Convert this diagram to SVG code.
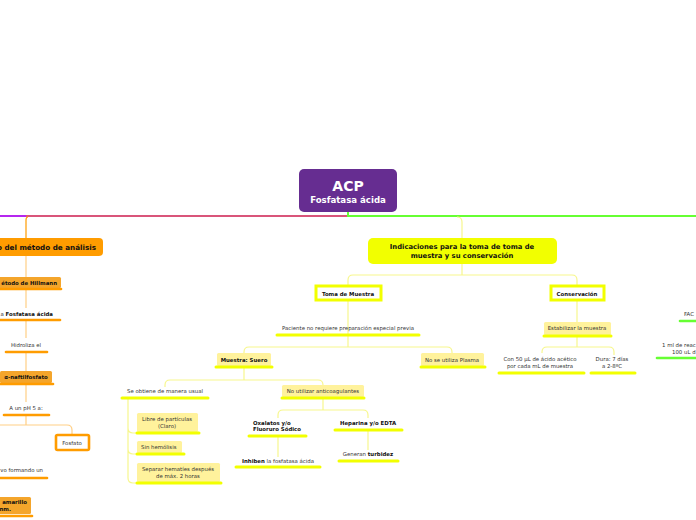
<svg xmlns="http://www.w3.org/2000/svg" width="696" height="520" viewBox="0 0 696 520">
<style>
text{font-family:"DejaVu Sans","Verdana",sans-serif;fill:#333;}
.b{font-weight:bold;fill:#111;}
.t{font-size:5.4px;}
.c{text-anchor:middle;}
.e{text-anchor:end;}
.yl{fill:none;stroke:#f7f78e;stroke-width:1.2;}
.ol{fill:none;stroke:#ffcf85;stroke-width:1.2;}
.ub{stroke:#f2ff00;stroke-width:3;stroke-linecap:round;}
.uo{stroke:#ff9c00;stroke-width:2.6;stroke-linecap:round;}
.ug{stroke:#66ff33;stroke-width:2.6;stroke-linecap:round;}
.fy{fill:#fff29c;}
.fo{fill:#f4a52b;}
.wy{fill:#fff;stroke:#f2ff00;stroke-width:3;}
.wo{fill:#fff;stroke:#ff9c00;stroke-width:2.6;}
</style>
<rect width="696" height="520" fill="#fff"/>
<g id="connectors">
<path d="M0,216 H26" stroke="#b526ef" stroke-width="2" fill="none"/>
<path d="M26,216 H348" stroke="#d9557a" stroke-width="2" fill="none"/>
<path d="M348,212 V216 H696" stroke="#66ff33" stroke-width="2" fill="none"/>
<path d="M28,217 Q26,217 26,220 V238" stroke="#ff9c00" stroke-width="1.2" fill="none"/>
<path d="M457,217 Q462,217 462,222 V238" class="yl"/>
<path d="M462,264 V275 M348,285 V280 Q348,275 353,275 H572 Q577,275 577,280 V285" class="yl"/>
<path d="M348,301 V334 M348,336 V347 M244,353 V352 Q244,347 249,347 H447 Q452,347 452,352 V353" class="yl"/>
<path d="M244,367 V380 M165,387 V385 Q165,380 170,380 H318 Q323,380 323,385 V386" class="yl"/>
<path d="M128,398 V478 Q128,483 133,483 H137 M128,428 Q128,433 133,433 H137 M128,449 Q128,454 133,454 H137" class="yl"/>
<path d="M323,398 V410 M278,418 V415 Q278,410 283,410 H363 Q368,410 368,415 V418" class="yl"/>
<path d="M278,436 V457 M368,430 V450" class="yl"/>
<path d="M577,301 V322 M577,336 V347 M542,353 V352 Q542,347 547,347 H609 Q614,347 614,352 V355" class="yl"/>
<path d="M26,256 V277 M26,289 V308 M26,320 V338 M26,352 V371 M26,384 V402 M26,415 V425 M0,425 H67 Q72,425 72,430 V434" class="ol"/>
</g>
<g id="n-acp">
<rect x="299" y="169" width="98" height="43" rx="5" fill="#662d91"/>
<text x="348" y="191" class="c" style="font-size:14px;font-weight:bold;fill:#fff">ACP</text>
<text x="348" y="203" class="c" style="font-size:8.6px;font-weight:bold;fill:#fff">Fosfatasa ácida</text>
</g>
<g id="n-indicaciones">
<rect x="368" y="238" width="189" height="26" rx="5" fill="#f2ff00"/>
<text x="462" y="249" class="b c" style="font-size:6.8px">Indicaciones para la toma de toma de</text>
<text x="462" y="258" class="b c" style="font-size:6.8px">muestra y su conservación</text>
</g>
<g id="n-toma">
<rect x="316" y="286" width="65" height="14" class="wy"/>
<text x="348" y="295.5" class="b c t">Toma de Muestra</text>
</g>
<g id="n-conservacion">
<rect x="551" y="286" width="53" height="14" class="wy"/>
<text x="577" y="295.5" class="b c t">Conservación</text>
</g>
<g id="n-paciente">
<text x="348" y="330" class="c t">Paciente no requiere preparación especial previa</text>
<line x1="277" y1="335" x2="419" y2="335" class="ub"/>
</g>
<g id="n-suero">
<rect x="217" y="353" width="54" height="13" rx="1.5" class="fy"/>
<text x="244" y="361.5" class="b c t">Muestra: Suero</text>
<line x1="216" y1="367" x2="272" y2="367" class="ub"/>
</g>
<g id="n-plasma">
<rect x="421" y="353" width="63" height="13" rx="1.5" class="fy"/>
<text x="452" y="361.5" class="c t">No se utiliza Plasma</text>
<line x1="421" y1="367" x2="485" y2="367" class="ub"/>
</g>
<g id="n-usual">
<text x="165" y="392.5" class="c t">Se obtiene de manera usual</text>
<line x1="122" y1="398" x2="208" y2="398" class="ub"/>
</g>
<g id="n-anticoag">
<rect x="282" y="385" width="82" height="12" rx="1.5" class="fy"/>
<text x="323" y="393" class="c t">No utilizar anticoagulantes</text>
<line x1="282" y1="398" x2="364" y2="398" class="ub"/>
</g>
<g id="n-libre">
<rect x="137" y="413" width="61" height="19" rx="1.5" class="fy"/>
<text x="167" y="421" class="c t">Libre de partículas</text>
<text x="167" y="427.5" class="c t">(Claro)</text>
<line x1="137" y1="433" x2="199" y2="433" class="ub"/>
</g>
<g id="n-hemolisis">
<rect x="137" y="441" width="45" height="12" rx="1.5" class="fy"/>
<text x="141" y="449" class="t">Sin hemólisis</text>
<line x1="137" y1="454" x2="184" y2="454" class="ub"/>
</g>
<g id="n-separar">
<rect x="137" y="463" width="83" height="19" rx="1.5" class="fy"/>
<text x="178" y="471" class="c t">Separar hematíes después</text>
<text x="178" y="477.5" class="c t">de máx. 2 horas</text>
<line x1="137" y1="483" x2="221" y2="483" class="ub"/>
</g>
<g id="n-oxalatos">
<text x="253" y="425" class="b t">Oxalatos y/o</text>
<text x="253" y="431" class="b t">Fluoruro Sódico</text>
<line x1="249" y1="436" x2="306" y2="436" class="ub"/>
</g>
<g id="n-heparina">
<text x="368" y="425" class="b c t">Heparina y/o EDTA</text>
<line x1="335" y1="430" x2="402" y2="430" class="ub"/>
</g>
<g id="n-inhiben">
<text x="278" y="462.5" class="c t"><tspan class="b">Inhiben</tspan> la fosfatasa ácida</text>
<line x1="236" y1="467" x2="320" y2="467" class="ub"/>
</g>
<g id="n-turbidez">
<text x="368" y="456" class="c t">Generan <tspan class="b">turbidez</tspan></text>
<line x1="339" y1="461" x2="398" y2="461" class="ub"/>
</g>
<g id="n-estabilizar">
<rect x="544" y="322" width="67" height="13" rx="1.5" class="fy"/>
<text x="577" y="330" class="c t">Estabilizar la muestra</text>
<line x1="544" y1="336" x2="611" y2="336" class="ub"/>
</g>
<g id="n-acetico">
<text x="540" y="361" class="c t">Con 50 µL de ácido acético</text>
<text x="540" y="367.5" class="c t">por cada mL de muestra</text>
<line x1="499" y1="373" x2="584" y2="373" class="ub"/>
</g>
<g id="n-dura">
<text x="612" y="361" class="c t">Dura: 7 días</text>
<text x="612" y="367.5" class="c t">a 2-8ºC</text>
<line x1="591" y1="373" x2="635" y2="373" class="ub"/>
</g>
<g id="n-fac">
<text x="684" y="315.5" class="t">FAC</text>
<line x1="680" y1="321" x2="697" y2="321" class="ug"/>
</g>
<g id="n-reactivo">
<text x="662" y="347" class="t">1 ml de reac</text>
<text x="672" y="354" class="t">100 uL d</text>
<line x1="657" y1="358" x2="697" y2="358" class="ug"/>
</g>
<g id="n-metodo">
<rect x="-60" y="238" width="163" height="18" rx="4" fill="#ff9c00"/>
<text x="96" y="249.5" class="b e" style="font-size:7.2px">o del método de análisis</text>
</g>
<g id="n-hillmann">
<rect x="-30" y="277" width="91" height="11" rx="1.5" class="fo"/>
<text x="57" y="284.5" class="b e t">étodo de Hillmann</text>
<line x1="-2" y1="289" x2="61" y2="289" class="uo"/>
</g>
<g id="n-fosfatasa">
<text x="53" y="316" class="e t">a <tspan class="b">Fosfatasa ácida</tspan></text>
<line x1="-2" y1="320" x2="60" y2="320" class="uo"/>
</g>
<g id="n-hidroliza">
<text x="26" y="346.5" class="c t">Hidroliza el</text>
<line x1="6" y1="352" x2="47" y2="352" class="uo"/>
</g>
<g id="n-naftil">
<rect x="0" y="371" width="52" height="12" rx="1.5" class="fo"/>
<text x="26" y="379" class="b c t">α-naftilfosfato</text>
<line x1="0" y1="384" x2="53" y2="384" class="uo"/>
</g>
<g id="n-ph">
<text x="26" y="409.5" class="c t">A un pH 5 a:</text>
<line x1="4" y1="415" x2="49" y2="415" class="uo"/>
</g>
<g id="n-fosfato">
<rect x="56" y="435" width="33" height="15" rx="1.5" class="wo"/>
<text x="72" y="444.5" class="c t">Fosfato</text>
</g>
<g id="n-formando">
<text x="43" y="472" class="e t">vo formando un</text>
<line x1="-2" y1="478" x2="47" y2="478" class="uo"/>
</g>
<g id="n-amarillo">
<rect x="-40" y="497" width="71" height="17" rx="1.5" class="fo"/>
<text x="27" y="504" class="b e t">amarillo</text>
<text x="11" y="510.5" class="b e t">nm.</text>
<line x1="-2" y1="516" x2="32" y2="516" class="uo"/>
</g>
</svg>
